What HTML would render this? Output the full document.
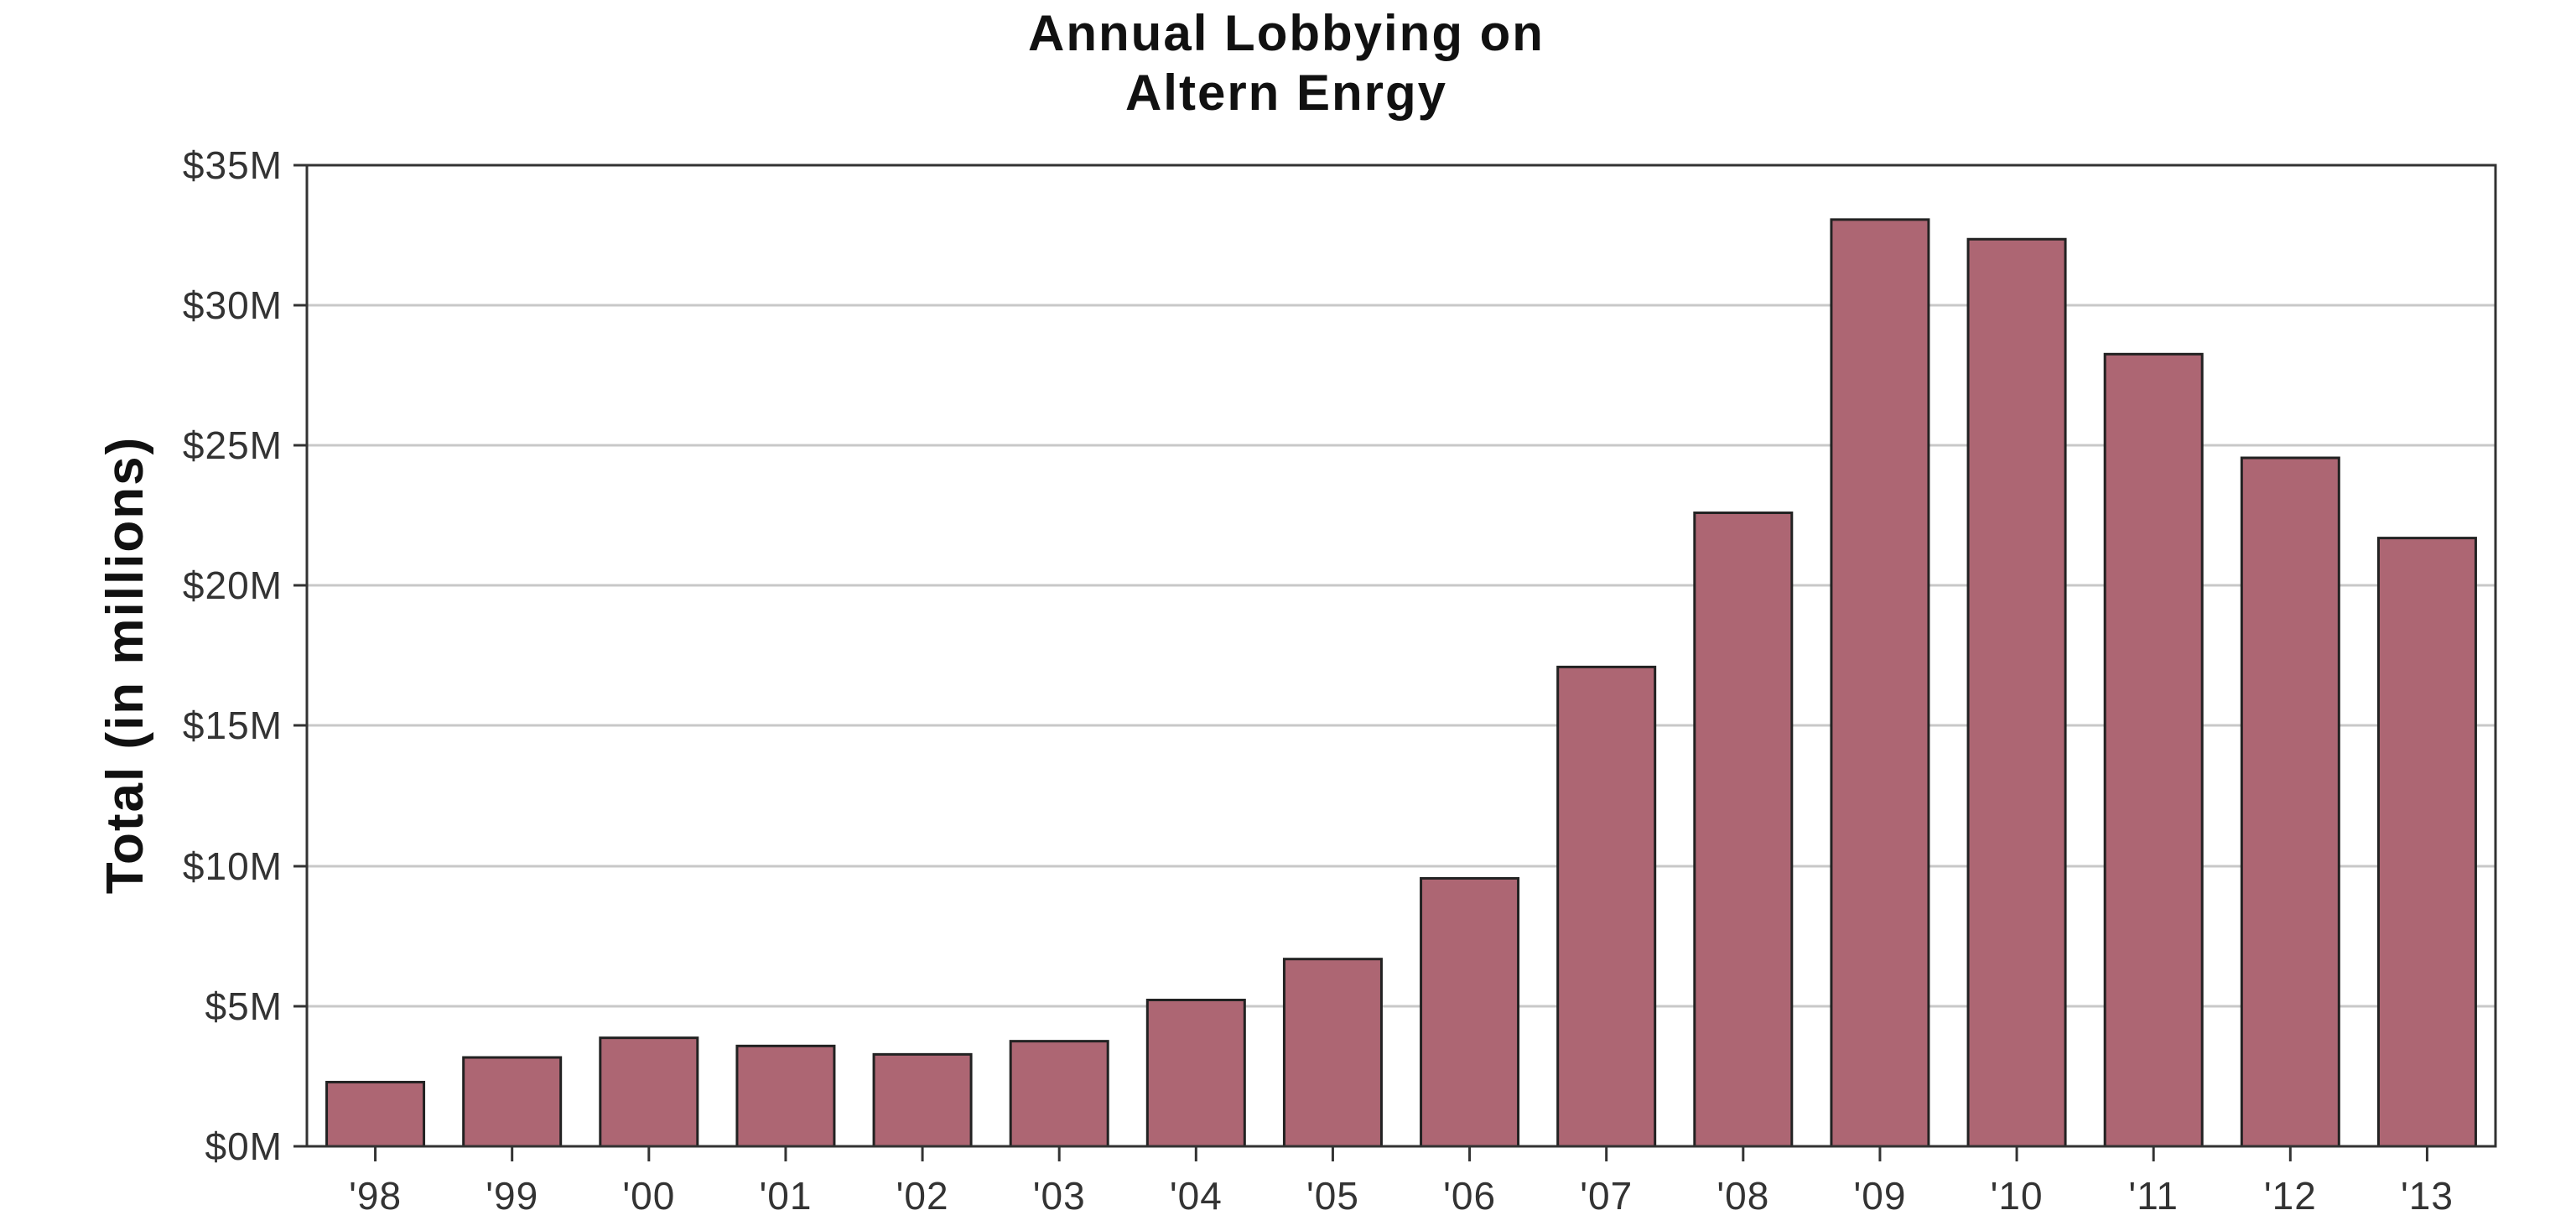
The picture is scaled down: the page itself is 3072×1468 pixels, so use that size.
<!DOCTYPE html>
<html><head><style>html,body{margin:0;padding:0;background:#fff}</style></head>
<body>
<svg width="3072" height="1463" xmlns="http://www.w3.org/2000/svg" font-family="'Liberation Sans', sans-serif">
<rect width="3072" height="1463" fill="#fff"/>
<text x="1534" y="60" font-size="60" font-weight="bold" text-anchor="middle" fill="#111" letter-spacing="2">Annual Lobbying on</text>
<text x="1534" y="131" font-size="60" font-weight="bold" text-anchor="middle" fill="#111" letter-spacing="2">Altern Enrgy</text>
<text transform="translate(170,793) rotate(-90)" font-size="62" font-weight="bold" text-anchor="middle" fill="#111" letter-spacing="2">Total (in millions)</text>
<g stroke="#c8c8c8" stroke-width="3">
<line x1="366" x2="2976" y1="364" y2="364"/>
<line x1="366" x2="2976" y1="531" y2="531"/>
<line x1="366" x2="2976" y1="698" y2="698"/>
<line x1="366" x2="2976" y1="865" y2="865"/>
<line x1="366" x2="2976" y1="1033" y2="1033"/>
<line x1="366" x2="2976" y1="1200" y2="1200"/>
</g>
<g font-size="46" fill="#333" text-anchor="end" letter-spacing="1">
<text x="337" y="213">$35M</text>
<text x="337" y="380">$30M</text>
<text x="337" y="547">$25M</text>
<text x="337" y="714">$20M</text>
<text x="337" y="881">$15M</text>
<text x="337" y="1049">$10M</text>
<text x="337" y="1216">$5M</text>
<text x="337" y="1383">$0M</text>
</g>
<g stroke="#333" stroke-width="3">
<line x1="350" x2="366" y1="197" y2="197"/><line x1="350" x2="366" y1="364" y2="364"/>
<line x1="350" x2="366" y1="531" y2="531"/><line x1="350" x2="366" y1="698" y2="698"/>
<line x1="350" x2="366" y1="865" y2="865"/><line x1="350" x2="366" y1="1033" y2="1033"/>
<line x1="350" x2="366" y1="1200" y2="1200"/><line x1="350" x2="366" y1="1367" y2="1367"/>
</g>
<g id="bars" fill="#ad6673" stroke="#222" stroke-width="3"></g>
<g id="xt" stroke="#333" stroke-width="3"></g>
<g id="xl" font-size="46" fill="#333" text-anchor="middle" letter-spacing="1"></g>
<rect x="366" y="197" width="2610" height="1170" fill="none" stroke="#333" stroke-width="3"/>
<script>
var v=[2.29,3.17,3.87,3.58,3.28,3.75,5.22,6.68,9.56,17.1,22.6,33.06,32.36,28.26,24.56,21.7];
var l=["'98","'99","'00","'01","'02","'03","'04","'05","'06","'07","'08","'09","'10","'11","'12","'13"];
var ns="http://www.w3.org/2000/svg",b=document.getElementById('bars'),t=document.getElementById('xt'),x=document.getElementById('xl');
for(var i=0;i<16;i++){var c=366+163.125*(i+0.5),h=v[i]*1170/35;
var r=document.createElementNS(ns,'rect');r.setAttribute('x',c-58);r.setAttribute('y',1367-h);r.setAttribute('width',116);r.setAttribute('height',h);b.appendChild(r);
var k=document.createElementNS(ns,'line');k.setAttribute('x1',c);k.setAttribute('x2',c);k.setAttribute('y1',1367);k.setAttribute('y2',1385);t.appendChild(k);
var s=document.createElementNS(ns,'text');s.setAttribute('x',c);s.setAttribute('y',1442);s.textContent=l[i];x.appendChild(s);}
</script>
</svg>
</body></html>
